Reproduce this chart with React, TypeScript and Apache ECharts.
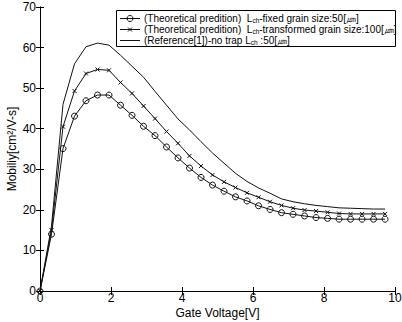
import React, { useEffect, useRef } from "react";
import * as echarts from "echarts";

const gateVoltage = [0, 0.324, 0.648, 0.972, 1.296, 1.62, 1.944, 2.268, 2.592, 2.916, 3.24, 3.564, 3.888, 4.212, 4.536, 4.86, 5.184, 5.508, 5.832, 6.156, 6.48, 6.804, 7.128, 7.452, 7.776, 8.1, 8.424, 8.748, 9.072, 9.396, 9.72];
const fixedGrain = [0, 14, 35.1, 43.1, 46.9, 48.3, 48.3, 45.8, 43.3, 40.6, 38.3, 35.5, 32.8, 30.3, 28.0, 26.1, 24.6, 23.2, 22.2, 21.0, 20.1, 19.3, 18.9, 18.5, 18.1, 17.9, 17.7, 17.7, 17.7, 17.7, 17.7];
const transformedGrain = [0, 15, 40.5, 49.3, 53.6, 54.6, 54.4, 51.4, 48.7, 45.6, 42.5, 39.3, 36.4, 33.3, 30.8, 28.6, 26.9, 25.5, 24.2, 23.1, 22.0, 21.1, 20.4, 19.95, 19.7, 19.4, 19.1, 19.0, 19.0, 19.0, 19.0];
const referenceNoTrap = [0, 16, 46, 56, 60.2, 61.1, 60.6, 58.1, 55.4, 52.7, 49.2, 45.8, 42.4, 39.7, 36.8, 34.0, 31.5, 29.0, 27.0, 25.4, 24.1, 22.7, 22.0, 21.5, 21.1, 20.8, 20.5, 20.4, 20.3, 20.2, 20.2];
const seriesNames = [
  "(Theoretical predition)  L{sub|ch}-fixed grain size:50[㎛]",
  "(Theoretical predition)  L{sub|ch}-transformed grain size:100[㎛]",
  "(Reference[1])-no trap L{sub|ch} :50[㎛]",
];
const xTicks = [0, 2, 4, 6, 8, 10];
const yTicks = [0, 10, 20, 30, 40, 50, 60, 70];

const FONT = "'Liberation Sans', Arial, sans-serif";
const INK = "#111";

export default function App() {
  const ref = useRef<HTMLDivElement>(null);
  useEffect(() => {
    if (!ref.current) return;
    const chart = echarts.init(ref.current, undefined, { renderer: "svg" });
    const pairs = (ys: number[]) => gateVoltage.map((x, i) => [x, ys[i]]);
    const axisCommon = {
      axisLine: { show: true, lineStyle: { color: "#000", width: 1 } },
      axisTick: { show: true, inside: true, length: 4, lineStyle: { color: "#000" } },
      splitLine: { show: false },
    };

    // legend drawn with graphic elements
    const boxL = 116, boxT = 10, boxR = 395, boxB = 46;
    const rowY = [18, 29, 40];
    const lineX0 = 120, lineX1 = 140, textX = 144;
    const legendEls: any[] = [
      {
        type: "rect",
        shape: { x: boxL + 0.5, y: boxT + 0.5, width: boxR - boxL, height: boxB - boxT },
        style: { fill: "#fff", stroke: "#000", lineWidth: 1 },
        z: 100,
      },
    ];
    rowY.forEach((y, i) => {
      legendEls.push({
        type: "line",
        shape: { x1: lineX0, y1: y + 0.5, x2: lineX1, y2: y + 0.5 },
        style: { stroke: INK, lineWidth: 1 },
        z: 101,
      });
      if (i === 0) {
        legendEls.push({
          type: "circle",
          shape: { cx: (lineX0 + lineX1) / 2, cy: y + 0.5, r: 3 },
          style: { fill: "none", stroke: INK, lineWidth: 1 },
          z: 101,
        });
      } else if (i === 1) {
        const cx = (lineX0 + lineX1) / 2, cy = y + 0.5;
        legendEls.push({ type: "line", shape: { x1: cx - 2, y1: cy - 2, x2: cx + 2, y2: cy + 2 }, style: { stroke: INK, lineWidth: 1 }, z: 101 });
        legendEls.push({ type: "line", shape: { x1: cx + 2, y1: cy - 2, x2: cx - 2, y2: cy + 2 }, style: { stroke: INK, lineWidth: 1 }, z: 101 });
      }
      legendEls.push({
        type: "text",
        x: textX,
        y: y,
        z: 101,
        style: {
          text: seriesNames[i],
          fill: "#000",
          fontSize: 10,
          fontFamily: FONT,
          verticalAlign: "middle",
          align: "left",
          rich: {
            sub: { fontSize: 6.5, fontFamily: FONT, fill: "#000", padding: [4, 0, 0, 0] },
          },
        },
      });
    });

    chart.setOption({
      animation: false,
      backgroundColor: "#fff",
      grid: { left: 40, right: 7, top: 7, bottom: 31, outerBoundsMode: "none", containLabel: false },
      xAxis: [
        {
          type: "value",
          min: xTicks[0],
          max: xTicks[xTicks.length - 1],
          interval: 2,
          ...axisCommon,
          axisLabel: { color: "#000", fontSize: 12, fontFamily: FONT, margin: 1 },
          name: "Gate Voltage[V]",
          nameLocation: "middle",
          nameGap: 16,
          nameMoveOverlap: false,
          nameTextStyle: { color: "#000", fontSize: 12, fontFamily: FONT },
        },
        {
          type: "value",
          position: "top",
          min: 0,
          max: 10,
          interval: 2,
          ...axisCommon,
          axisLabel: { show: false },
        },
      ],
      yAxis: [
        {
          type: "value",
          min: yTicks[0],
          max: yTicks[yTicks.length - 1],
          interval: 10,
          ...axisCommon,
          axisLabel: { color: "#000", fontSize: 12, fontFamily: FONT, margin: 4 },
          name: "Mobiliy[cm²/V-s]",
          nameLocation: "middle",
          nameGap: 22,
          nameMoveOverlap: false,
          nameTextStyle: { color: "#000", fontSize: 12, fontFamily: FONT },
        },
        {
          type: "value",
          position: "right",
          min: 0,
          max: 70,
          interval: 10,
          ...axisCommon,
          axisLabel: { show: false },
        },
      ],
      graphic: legendEls,
      series: [
        {
          name: seriesNames[0],
          type: "line",
          data: pairs(fixedGrain),
          symbol: "circle",
          symbolSize: 6,
          showAllSymbol: true,
          lineStyle: { color: INK, width: 1 },
          itemStyle: { color: "rgba(255,255,255,0)", borderColor: INK, borderWidth: 1 },
        },
        {
          name: seriesNames[1],
          type: "line",
          data: pairs(transformedGrain),
          symbol: "path://M0,0L10,10M10,0L0,10",
          symbolSize: 4,
          showAllSymbol: true,
          lineStyle: { color: INK, width: 1 },
          itemStyle: { color: "rgba(255,255,255,0)", borderColor: INK, borderWidth: 1 },
        },
        {
          name: seriesNames[2],
          type: "line",
          data: pairs(referenceNoTrap),
          symbol: "none",
          lineStyle: { color: INK, width: 1 },
        },
      ],
    });
    return () => chart.dispose();
  }, []);
  return <div ref={ref} style={{ width: 402, height: 322, position: "absolute", left: 0, top: 0 }} />;
}
